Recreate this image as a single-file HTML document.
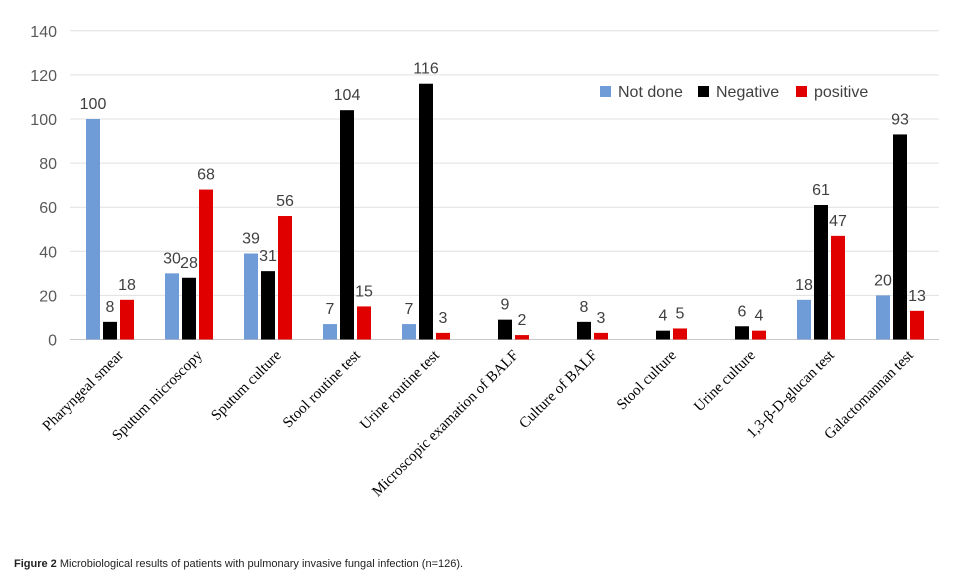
<!DOCTYPE html>
<html><head><meta charset="utf-8"><style>
body{margin:0;background:#fff;width:957px;height:583px;overflow:hidden}
svg text{font-family:"Liberation Sans",sans-serif}
</style></head><body>
<svg id="chart" width="957" height="583" xmlns="http://www.w3.org/2000/svg">
<g id="grid"></g><g id="bars"></g><g id="labels"></g>
<g>
<rect x="600" y="86" width="11" height="11" fill="#6f9bd6"/><text x="618" y="97" font-size="16" fill="#404040">Not done</text>
<rect x="698" y="86" width="11" height="11" fill="#000"/><text x="716" y="97" font-size="16" fill="#404040">Negative</text>
<rect x="796" y="86" width="11" height="11" fill="#e00000"/><text x="814" y="97" font-size="16" fill="#404040">positive</text>
</g>
<text x="14" y="567" font-size="11" fill="#222"><tspan font-weight="bold">Figure 2</tspan> Microbiological results of patients with pulmonary invasive fungal infection (n=126).</text>
</svg>
<script>
const categories=["Pharyngeal smear","Sputum microscopy","Sputum culture","Stool routine test","Urine routine test","Microscopic examation of BALF","Culture of BALF","Stool culture","Urine culture","1,3-β-D-glucan test","Galactomannan test"];
const notDone=[100,30,39,7,7,0,0,0,0,18,20];
const negative=[8,28,31,104,116,9,8,4,6,61,93];
const positive=[18,68,56,15,3,2,3,5,4,47,13];
const yTicks=[0,20,40,60,80,100,120,140];
const NS="http://www.w3.org/2000/svg";
const x0=70,step=79,y0=339.5,ppu=2.205;
const y=v=>y0-v*ppu;
const cx=i=>x0+step*i+40;
function mk(t,a,p){const e=document.createElementNS(NS,t);for(const k in a)e.setAttribute(k,a[k]);(p).appendChild(e);return e;}
const grid=document.getElementById('grid'),bars=document.getElementById('bars'),labels=document.getElementById('labels');
yTicks.forEach(t=>{
 const l=mk('line',{x1:x0,x2:x0+step*11,y1:y(t),y2:y(t),stroke:t===0?'#c8c8c8':'#e0e0e0','stroke-width':1},grid);
 
 
 const tx=mk('text',{x:57,y:y(t)+6,'text-anchor':'end','font-size':16,fill:'#595959'},grid);
 tx.textContent=t;
 
 
});
const series=[[notDone,'#6f9bd6',-17],[negative,'#000',0],[positive,'#e00000',17]];
categories.forEach((c,i)=>{
 series.forEach(([arr,col,off])=>{
  const v=arr[i];
  const r=mk('rect',{x:cx(i)+off-7,y:y(v),width:14,height:v*ppu,fill:col},bars);
  
  
  if(v>0){const t=mk('text',{x:cx(i)+off,y:y(v)-10,'text-anchor':'middle','font-size':16,fill:'#404040'},labels);
   t.textContent=v;
   
   }
 });
 const ax=cx(i)+14,ay=356;
 const t=mk('text',{x:ax,y:ay,'text-anchor':'end','font-size':15,fill:'#000',transform:`rotate(-45 ${ax} ${ay})`,style:'font-family:"Liberation Serif",serif'},labels);
 t.textContent=c;
 
 
});
</script>
</body></html>
